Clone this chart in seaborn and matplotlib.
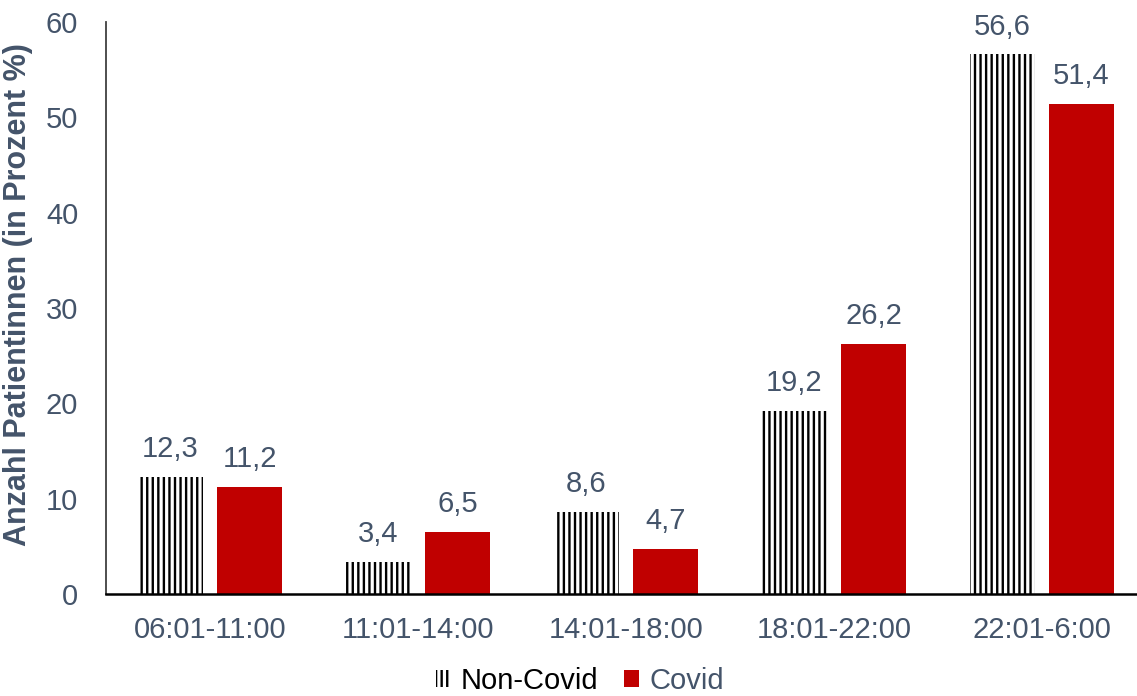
import matplotlib
matplotlib.use("Agg")
import matplotlib.pyplot as plt
from matplotlib.patches import Patch
import seaborn as sns
import pandas as pd

# Time windows and share of patients (%) per group
zeitfenster = ["06:01-11:00", "11:01-14:00", "14:01-18:00", "18:01-22:00", "22:01-6:00"]
non_covid = [12.3, 3.4, 8.6, 19.2, 56.6]
covid = [11.2, 6.5, 4.7, 26.2, 51.4]
gruppen = ["Non-Covid", "Covid"]
y_ticks = [0, 10, 20, 30, 40, 50, 60]

df = pd.DataFrame({
    "Zeit": zeitfenster * 2,
    "Gruppe": [gruppen[0]] * len(zeitfenster) + [gruppen[1]] * len(zeitfenster),
    "Wert": non_covid + covid,
})

sns.set_theme(style="white")
plt.rcParams["font.family"] = ["Liberation Sans", "DejaVu Sans"]
plt.rcParams["hatch.linewidth"] = 1.7
plt.rcParams["hatch.color"] = "black"

TXT = "#44546A"
RED = "#C00000"
FS = 21

fig = plt.figure(figsize=(11.37, 6.96), dpi=100)
ax = fig.add_axes([106 / 1137, 1 - 594 / 696, 1 - 106 / 1137, (594 - 22) / 696])

sns.barplot(data=df, x="Zeit", y="Wert", hue="Gruppe", order=zeitfenster,
            hue_order=gruppen, palette={"Non-Covid": "white", "Covid": RED},
            saturation=1, width=0.76, gap=0.18, linewidth=0, errorbar=None,
            legend=False, ax=ax)

# striped fill for the Non-Covid bars
for bar in ax.containers[0]:
    bar.set_hatch("|||")
    bar.set_edgecolor("black")
    bar.set_linewidth(0)

for cont in ax.containers:
    ax.bar_label(cont, labels=[f"{v:.1f}".replace(".", ",") for v in cont.datavalues],
                 padding=10, fontsize=FS, color=TXT)

ax.set_ylim(0, 60)
ax.set_yticks(y_ticks)
ax.set_xlim(-0.5, 4.5 - 9 / 208)
ax.tick_params(axis="both", length=0, labelsize=FS, labelcolor=TXT)
ax.tick_params(axis="x", pad=16)
ax.tick_params(axis="y", pad=20)
ax.set_xlabel("")
ax.set_ylabel("Anzahl Patientinnen (in Prozent %)", fontsize=22, fontweight="bold",
              color=TXT)
ax.yaxis.set_label_coords(-0.0705, 0.523)

for s in ["top", "right"]:
    ax.spines[s].set_visible(False)
ax.spines["left"].set_color("#404040")
ax.spines["left"].set_linewidth(1.3)
ax.spines["bottom"].set_color("black")
ax.spines["bottom"].set_linewidth(1.8)

handles = [Patch(facecolor="white", edgecolor="black", hatch="|||", linewidth=0),
           Patch(facecolor=RED, edgecolor=RED, linewidth=0)]
leg = fig.legend(handles, gruppen, loc="lower center", bbox_to_anchor=(0.51, -0.036),
                 ncol=2, frameon=False, fontsize=FS, handlelength=0.5, handleheight=0.5,
                 handletextpad=0.35, columnspacing=0.9)
leg.get_texts()[0].set_color("black")
leg.get_texts()[1].set_color(TXT)

fig.savefig("out.png", dpi=100)
